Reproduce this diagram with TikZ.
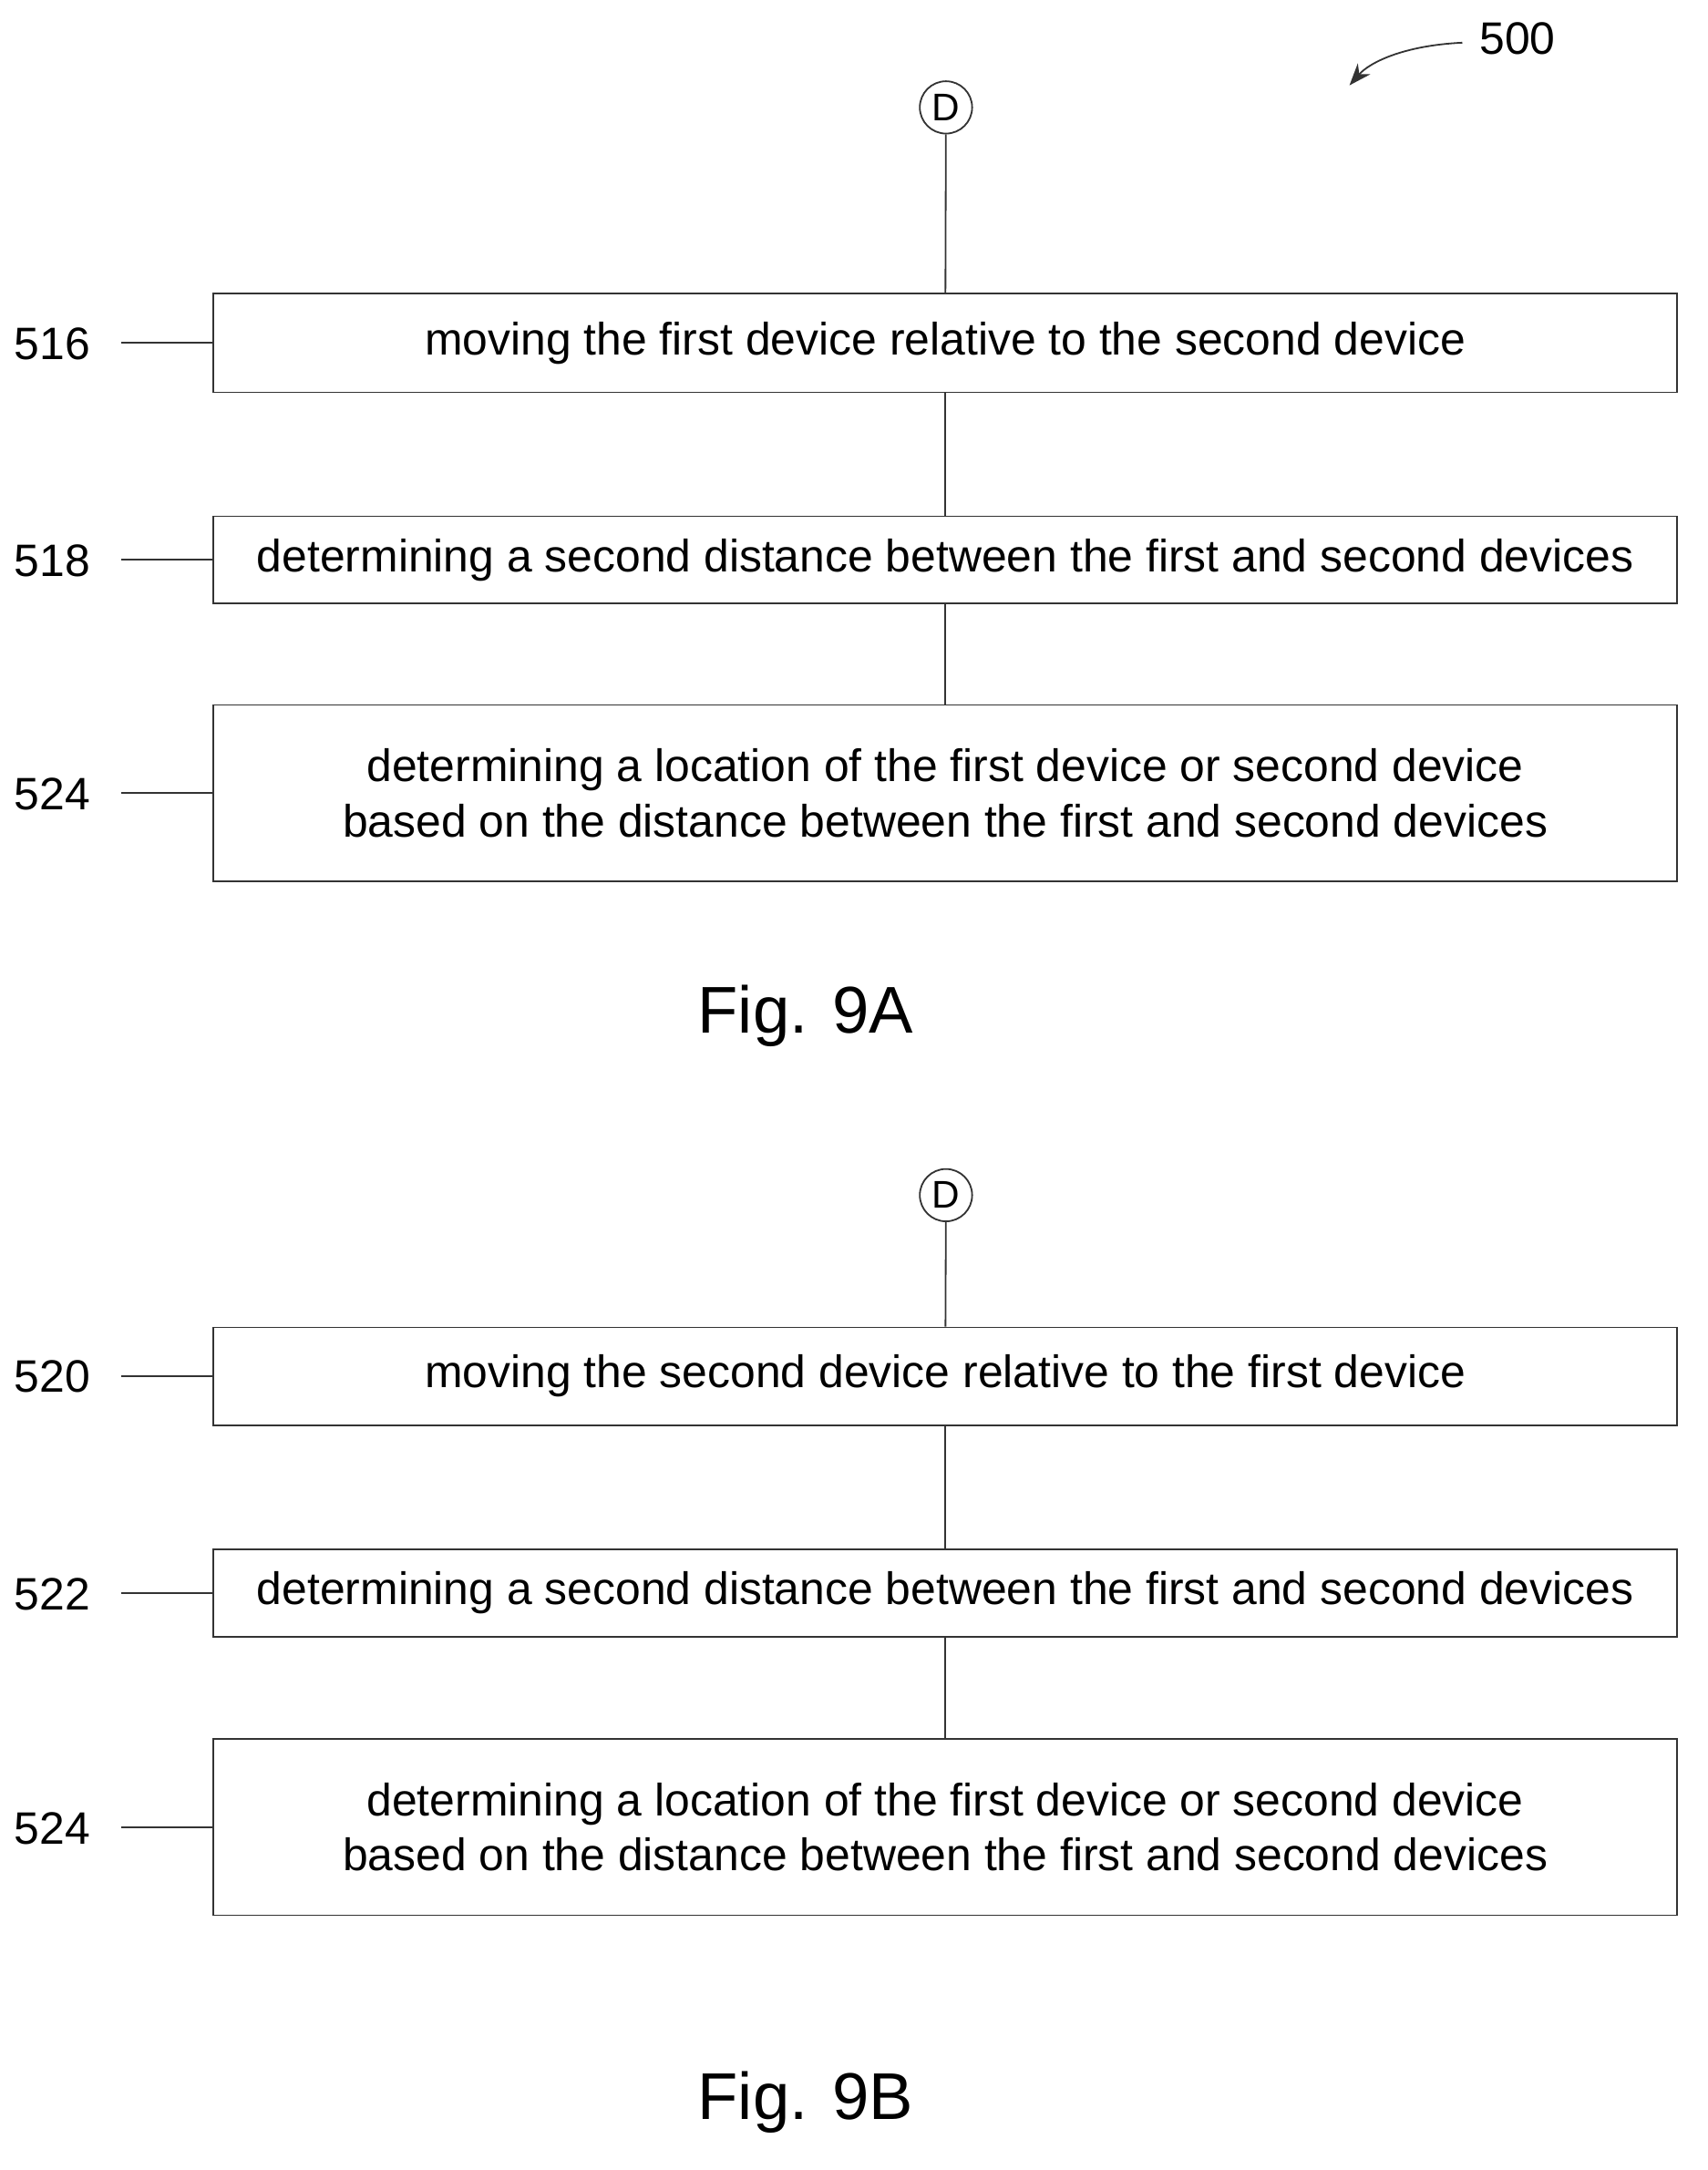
\documentclass[tikz,border=0pt]{standalone}
\usepackage{fontspec}
\setmainfont{Liberation Sans}
\usetikzlibrary{arrows.meta}
\begin{document}
\begin{tikzpicture}[x=1pt,y=-1pt,
  box/.style={draw=black!80,line width=1.2pt,minimum width=1063pt,inner sep=0pt,align=center,font=\fontsize{33}{40}\selectfont},
  lbl/.style={font=\fontsize{33}{36}\selectfont,anchor=center},
  conn/.style={draw=black!80,line width=1.2pt},
  dc/.style={circle,draw=black!80,line width=1.2pt,minimum size=38pt,inner sep=0pt,font=\fontsize{28}{30}\selectfont},
  fig/.style={font=\fontsize{48}{52}\selectfont}]
\useasboundingbox (0,0) rectangle (1240,1576);
% Fig 9A
\node[dc] (d1) at (687,78) {D};
\node[box,minimum height=72pt] (a1) at (686.5,249) {moving the first device relative to the second device};
\node[box,minimum height=63pt] (a2) at (686.5,406.5) {determining a second distance between the first and second devices};
\node[box,minimum height=128pt] (a3) at (686.5,576) {determining a location of the first device or second device\\based on the distance between the first and second devices};
\draw[conn] (d1) -- (a1);
\draw[conn] (a1) -- (a2);
\draw[conn] (a2) -- (a3);
\node[lbl] (l516) at (38,250) {516};
\node[lbl] (l518) at (38,407) {518};
\node[lbl] (l524a) at (38,577) {524};
\coordinate (c516) at (88,249); \draw[conn] (c516) -- (a1.west);
\coordinate (c518) at (88,406.5); \draw[conn] (c518) -- (a2.west);
\coordinate (c524a) at (88,576); \draw[conn] (c524a) -- (a3.west);
\node[fig] (f9a) at (585,738) {Fig. 9A};
\node[lbl] (l500) at (1102,28) {500};
\coordinate (s500) at (1062,31);
\coordinate (e500) at (980,62);
\draw[conn,-{Stealth[length=16pt,width=12pt]}] (s500) .. controls (1020,33) and (995,45) .. (e500);
% Fig 9B
\node[dc] (d2) at (687,868) {D};
\node[box,minimum height=71pt] (b1) at (686.5,999.5) {moving the second device relative to the first device};
\node[box,minimum height=64pt] (b2) at (686.5,1157) {determining a second distance between the first and second devices};
\node[box,minimum height=128pt] (b3) at (686.5,1327) {determining a location of the first device or second device\\based on the distance between the first and second devices};
\draw[conn] (d2) -- (b1);
\draw[conn] (b1) -- (b2);
\draw[conn] (b2) -- (b3);
\node[lbl] (l520) at (38,1000) {520};
\node[lbl] (l522) at (38,1158) {522};
\node[lbl] (l524b) at (38,1328) {524};
\coordinate (c520) at (88,999.5); \draw[conn] (c520) -- (b1.west);
\coordinate (c522) at (88,1157); \draw[conn] (c522) -- (b2.west);
\coordinate (c524b) at (88,1327); \draw[conn] (c524b) -- (b3.west);
\node[fig] (f9b) at (585,1527) {Fig. 9B};
\end{tikzpicture}
\end{document}
